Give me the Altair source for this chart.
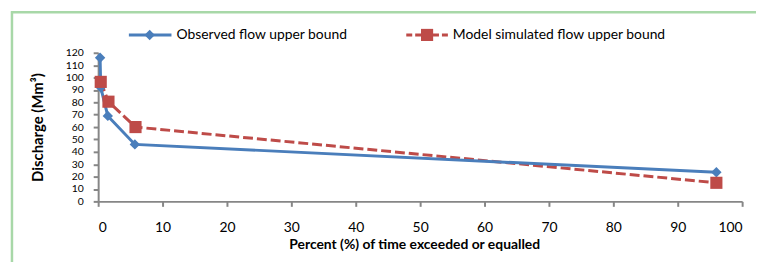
import altair as alt
import pandas as pd

# Data
obs_x = [0.3, 0.4, 1.5, 5.7, 96.0]
obs_y = [116, 92, 69, 46, 23.5]
mod_x = [0.4, 1.6, 5.8, 96.0]
mod_y = [96.5, 80.5, 60, 15]

series_obs = "Observed flow upper bound"
series_mod = "Model simulated flow upper bound"

x_ticks = list(range(0, 101, 10))
y_ticks = list(range(0, 121, 10))

BLUE = "#4A7EBB"
RED = "#BE4B48"
FRAME = "#A8D8A8"
AXIS = "#868686"
FONT = "Lato"

obs = pd.DataFrame({"x": obs_x, "y": obs_y, "s": series_obs})
mod = pd.DataFrame({"x": mod_x, "y": mod_y, "s": series_mod})
one = pd.DataFrame({"k": [0]})  # single row for decorative / legend marks

xs = alt.Scale(domain=[0, 100], nice=False)
ys = alt.Scale(domain=[0, 120], nice=False)

x_axis = alt.Axis(
    values=x_ticks, title="Percent (%) of time exceeded or equalled",
    grid=False, domainColor=AXIS, domainWidth=2, tickColor=AXIS, tickWidth=2, tickSize=5,
    labelFont=FONT, labelFontSize=14, labelColor="#000000", labelPadding=21,
    labelBaseline="middle", labelOverlap=False,
    titleFont=FONT, titleFontSize=14, titleFontWeight="bold", titleColor="#000000",
    titleX=319, titleY=44, titleBaseline="middle", titleAnchor="middle", titleAlign="center",
)
y_axis = alt.Axis(
    values=y_ticks, title="Discharge (Mm³)",
    grid=False, domainColor=AXIS, domainWidth=2, tickColor=AXIS, tickWidth=2, tickSize=5,
    labelFont=FONT, labelFontSize=10.5, labelColor="#000000", labelPadding=10,
    labelOverlap=False, labelBaseline="middle",
    titleFont=FONT, titleFontSize=15, titleFontWeight="bold", titleColor="#000000",
    titleX=-61, titleY=75, titleAngle=270, titleBaseline="middle", titleAlign="center",
)

X = alt.X("x:Q", scale=xs, axis=x_axis)
Y = alt.Y("y:Q", scale=ys, axis=y_axis)

mod_line = alt.Chart(mod).mark_line(color=RED, strokeWidth=3, strokeDash=[10, 4]).encode(x=X, y=Y)
obs_line = alt.Chart(obs).mark_line(color=BLUE, strokeWidth=3).encode(x=X, y=Y)
obs_pts = alt.Chart(obs).mark_point(shape="diamond", filled=True, color=BLUE, size=110, opacity=1).encode(x=X, y=Y)
mod_pts = alt.Chart(mod).mark_point(shape="square", filled=True, color=RED, size=150, opacity=1).encode(x=X, y=Y)

# Outer frame (decorative, only top and left edges visible in the reference)
frame_top = alt.Chart(one).mark_rule(color=FRAME, strokeWidth=2.5, clip=False).encode(
    x=alt.value(-88), x2=alt.value(720), y=alt.value(-41)
)
frame_left = alt.Chart(one).mark_rule(color=FRAME, strokeWidth=2.5, clip=False).encode(
    x=alt.value(-87), y=alt.value(-42), y2=alt.value(260)
)

# Legend
LY = -18
leg_obs_line = alt.Chart(one).mark_rule(color=BLUE, strokeWidth=3).encode(
    x=alt.value(31), x2=alt.value(74), y=alt.value(LY)
)
leg_obs_pt = alt.Chart(one).mark_point(shape="diamond", filled=True, color=BLUE, size=110, opacity=1).encode(
    x=alt.value(52), y=alt.value(LY)
)
leg_obs_txt = alt.Chart(one).mark_text(align="left", baseline="middle", font=FONT, fontSize=14,
                                       fontWeight="normal", color="#000000").encode(
    x=alt.value(79), y=alt.value(LY), text=alt.value(series_obs)
)
leg_mod_line = alt.Chart(one).mark_rule(color=RED, strokeWidth=3, strokeDash=[6, 3]).encode(
    x=alt.value(311), x2=alt.value(356), y=alt.value(LY)
)
leg_mod_pt = alt.Chart(one).mark_point(shape="square", filled=True, color=RED, size=150, opacity=1).encode(
    x=alt.value(332), y=alt.value(LY)
)
leg_mod_txt = alt.Chart(one).mark_text(align="left", baseline="middle", font=FONT, fontSize=14,
                                       fontWeight="normal", color="#000000").encode(
    x=alt.value(358), y=alt.value(LY), text=alt.value(series_mod)
)

chart = alt.layer(
    frame_top, frame_left,
    mod_line, obs_line, obs_pts, mod_pts,
    leg_obs_line, leg_obs_pt, leg_obs_txt, leg_mod_line, leg_mod_pt, leg_mod_txt,
).properties(
    width=650, height=150,
    padding={"left": 91, "top": 44, "right": 14, "bottom": 60},
    autosize=alt.AutoSizeParams(type="none"),
    background="#ffffff",
).configure_view(stroke=None)

chart.save("out.html", embed_options={"renderer": "svg", "actions": False})
